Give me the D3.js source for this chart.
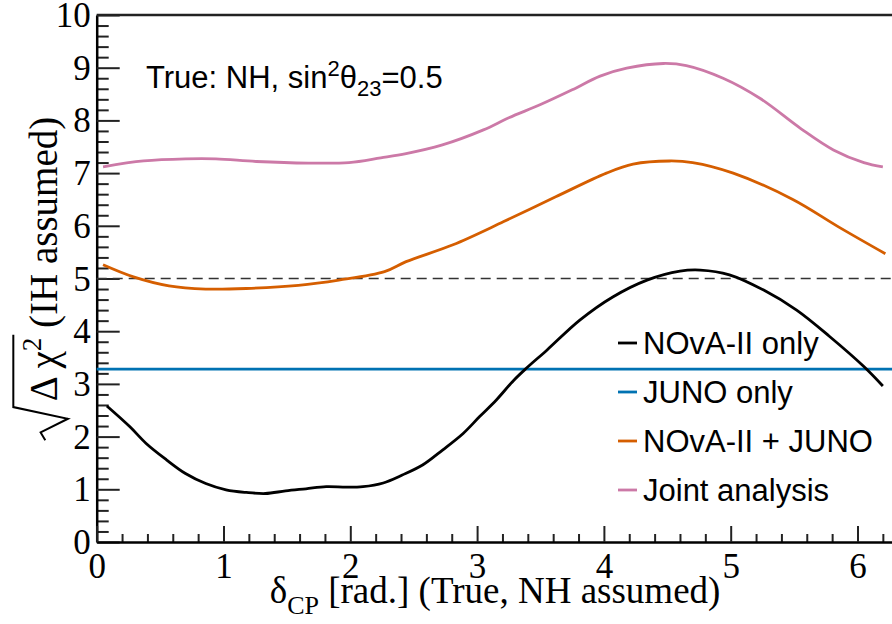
<!DOCTYPE html>
<html>
<head>
<meta charset="utf-8">
<script src="https://cdn.jsdelivr.net/npm/d3@7"></script>
<style>
  html, body { margin: 0; padding: 0; background: #fff; }
  svg { display: block; }
  .serif { font-family: "Liberation Serif", "Times New Roman", serif; }
  .sans { font-family: "Liberation Sans", Arial, sans-serif; }
</style>
</head>
<body>
<svg id="chart" width="892" height="624"></svg>
<script>
// values
const novaX = [0.08, 0.26, 0.39, 0.55, 0.70, 0.86, 1.02, 1.18, 1.33, 1.49, 1.65, 1.81, 1.97, 2.10, 2.26, 2.41, 2.57, 2.73, 2.89, 3.02, 3.15, 3.29, 3.39, 3.55, 3.81, 4.07, 4.34, 4.60, 4.76, 4.99, 5.26, 5.52, 5.78, 6.05, 6.20];
const novaY = [2.58, 2.19, 1.87, 1.56, 1.30, 1.11, 0.99, 0.94, 0.92, 0.97, 1.01, 1.05, 1.04, 1.05, 1.12, 1.27, 1.46, 1.75, 2.06, 2.38, 2.69, 3.07, 3.30, 3.64, 4.21, 4.65, 4.97, 5.14, 5.16, 5.07, 4.78, 4.40, 3.90, 3.33, 2.96];

const junoX = [0, 6.283];
const junoY = [3.28, 3.28];

const comboX = [0.05, 0.29, 0.57, 0.86, 1.18, 1.59, 1.91, 2.27, 2.44, 2.81, 3.21, 3.62, 4.02, 4.23, 4.52, 4.70, 5.02, 5.49, 5.85, 6.22];
const comboY = [5.26, 5.03, 4.86, 4.80, 4.81, 4.87, 4.97, 5.13, 5.32, 5.64, 6.08, 6.55, 7.00, 7.17, 7.23, 7.20, 7.00, 6.50, 5.98, 5.47];

const jointX = [0.05, 0.37, 0.70, 0.94, 1.26, 1.67, 1.99, 2.24, 2.44, 2.72, 3.05, 3.25, 3.50, 3.75, 3.97, 4.18, 4.47, 4.65, 4.94, 5.23, 5.55, 5.81, 6.05, 6.20];
const jointY = [7.12, 7.23, 7.27, 7.27, 7.22, 7.19, 7.20, 7.29, 7.37, 7.53, 7.82, 8.05, 8.30, 8.58, 8.84, 8.99, 9.08, 9.04, 8.80, 8.42, 7.85, 7.44, 7.20, 7.12];

const seriesNames = ["NOvA-II only", "JUNO only", "NOvA-II + JUNO", "Joint analysis"];
const seriesColors = ["#000000", "#0072B2", "#D55E00", "#CC79A7"];

const xTicks = [0, 1, 2, 3, 4, 5, 6];
const yTicks = [0, 1, 2, 3, 4, 5, 6, 7, 8, 9, 10];
const threshold = 5;

const svg = d3.select('#chart');
const mLeft = 96.7, mRight = 893.4, mTop = 15, mBottom = 542;

const x = d3.scaleLinear().domain([0, 2 * Math.PI]).range([mLeft, mRight]);
const y = d3.scaleLinear().domain([0, 10]).range([mBottom, mTop]);

svg.append('rect').attr('width', 892).attr('height', 624).attr('fill', '#fff');

// minor ticks
const yMinor = d3.range(0, 10.001, 0.2).filter(v => Math.abs(v - Math.round(v)) > 1e-6);
const xMinor = d3.range(0, 6.29, 0.2).filter(v => Math.abs(v - Math.round(v)) > 1e-6);

svg.append('g')
    .attr('transform', `translate(${mLeft},0)`)
    .call(d3.axisLeft(y).tickValues(yMinor).tickSize(-12).tickFormat(''))
    .call(g => g.select('.domain').remove())
    .call(g => g.selectAll('line').attr('stroke', '#222').attr('stroke-width', 2));

svg.append('g')
    .attr('transform', `translate(0,${mBottom})`)
    .call(d3.axisBottom(x).tickValues(xMinor).tickSize(-8).tickFormat(''))
    .call(g => g.select('.domain').remove())
    .call(g => g.selectAll('line').attr('stroke', '#222').attr('stroke-width', 2));

// major ticks and labels
const yAxis = svg.append('g')
    .attr('transform', `translate(${mLeft},0)`)
    .call(d3.axisLeft(y).tickValues(yTicks).tickSize(-23).tickSizeOuter(0).tickPadding(6).tickFormat(d3.format('d')));
yAxis.select('.domain').attr('stroke', '#000').attr('stroke-width', 2.5);
yAxis.selectAll('line').attr('stroke', '#222').attr('stroke-width', 2);
yAxis.selectAll('text')
    .attr('class', 'serif')
    .attr('font-size', 35)
    .attr('fill', '#000')
    .attr('dy', '0.33em');

const xAxis = svg.append('g')
    .attr('transform', `translate(0,${mBottom})`)
    .call(d3.axisBottom(x).tickValues(xTicks).tickSize(-16).tickSizeOuter(0).tickPadding(11).tickFormat(d3.format('d')));
xAxis.select('.domain').attr('stroke', '#000').attr('stroke-width', 2.5);
xAxis.selectAll('line').attr('stroke', '#222').attr('stroke-width', 2);
xAxis.selectAll('text')
    .attr('class', 'serif')
    .attr('font-size', 35)
    .attr('fill', '#000');

// top frame
svg.append('line')
    .attr('x1', mLeft).attr('x2', 892)
    .attr('y1', mTop).attr('y2', mTop)
    .attr('stroke', '#222').attr('stroke-width', 2.5);

// 5 sigma reference line
svg.append('line')
    .attr('x1', mLeft).attr('x2', mRight)
    .attr('y1', y(threshold)).attr('y2', y(threshold))
    .attr('stroke', '#333').attr('stroke-width', 1.6)
    .attr('stroke-dasharray', '10,6');

// curves
const data = [
    d3.zip(novaX, novaY),
    d3.zip(junoX, junoY),
    d3.zip(comboX, comboY),
    d3.zip(jointX, jointY)
];

const line = d3.line()
    .x(d => x(d[0]))
    .y(d => y(d[1]))
    .curve(d3.curveCatmullRom.alpha(0.5));

const drawOrder = [1, 3, 2, 0];
svg.append('g').selectAll('path')
    .data(drawOrder)
    .join('path')
    .attr('d', i => line(data[i]))
    .attr('fill', 'none')
    .attr('stroke', i => seriesColors[i])
    .attr('stroke-width', 2.8)
    .attr('stroke-linejoin', 'round');

// legend
const legend = svg.append('g').attr('class', 'sans');
const legRow = legend.selectAll('g')
    .data(seriesNames)
    .join('g')
    .attr('transform', (d, i) => `translate(618,${354 + i * 49})`);
legRow.append('line')
    .attr('x1', 0).attr('x2', 19)
    .attr('y1', -11).attr('y2', -11)
    .attr('stroke', (d, i) => seriesColors[i])
    .attr('stroke-width', 2.8);
legRow.append('text')
    .attr('x', 25)
    .attr('font-size', 31)
    .attr('fill', '#000')
    .text(d => d);

// label in the top left
const label = svg.append('text')
    .attr('class', 'sans')
    .attr('x', 146).attr('y', 88)
    .attr('font-size', 31)
    .attr('fill', '#000');
label.append('tspan').text('True: NH, sin');
label.append('tspan').attr('font-size', 22).attr('dy', -12).text('2');
label.append('tspan').attr('dy', 12).text('θ');
label.append('tspan').attr('font-size', 22).attr('dy', 8).text('23');
label.append('tspan').attr('dy', -8).text('=0.5');

// x axis title
const xTitle = svg.append('text')
    .attr('class', 'serif')
    .attr('x', (mLeft + mRight) / 2).attr('y', 603)
    .attr('text-anchor', 'middle')
    .attr('font-size', 37)
    .attr('fill', '#000');
xTitle.append('tspan').text('δ');
xTitle.append('tspan').attr('font-size', 26).attr('dy', 11).text('CP');
xTitle.append('tspan').attr('dy', -11).text(' [rad.] (True, NH assumed)');

// y axis title, with a drawn radical sign
const fs = 39;
const yTitleG = svg.append('g')
    .attr('transform', `translate(57,${(mTop + mBottom) / 2}) rotate(-90)`);
const yTitle = yTitleG.append('text')
    .attr('class', 'serif')
    .attr('font-size', fs)
    .attr('fill', '#000');
const tRoot = yTitle.append('tspan').text('Δ χ');
const tSup = yTitle.append('tspan').attr('font-size', 27).attr('dy', -16).text('2');
const tRest = yTitle.append('tspan').attr('dy', 16).text(' (IH assumed)');

const radW = 1.0 * fs;
const wRoot = tRoot.node().getComputedTextLength();
const wSup = tSup.node().getComputedTextLength();
const wRest = tRest.node().getComputedTextLength();
const total = radW + wRoot + wSup + wRest;
const x0 = -total / 2;
yTitle.attr('x', x0 + radW);
tRoot.attr('x', x0 + radW);

const barEnd = x0 + radW + wRoot + wSup + 3;
yTitleG.append('path')
    .attr('d', `M${x0},${-0.3 * fs} L${x0 + 0.2 * fs},${-0.42 * fs} L${x0 + 0.55 * fs},${0.28 * fs} L${x0 + 0.85 * fs},${-1.12 * fs} L${barEnd},${-1.12 * fs}`)
    .attr('fill', 'none')
    .attr('stroke', '#000')
    .attr('stroke-width', 2);
</script>
</body>
</html>
